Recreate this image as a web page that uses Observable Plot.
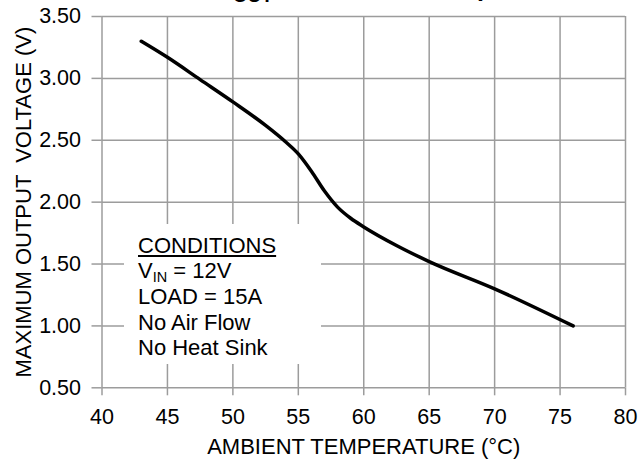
<!DOCTYPE html>
<html>
<head>
<meta charset="utf-8">
<script src="https://cdn.jsdelivr.net/npm/d3@7"></script>
<script src="https://cdn.jsdelivr.net/npm/@observablehq/plot@0.6"></script>
<style>
  html, body { margin: 0; padding: 0; background: #fff; }
  #wrap { position: relative; width: 639px; height: 459px; overflow: hidden; font-family: "Liberation Sans", Arial, Helvetica, sans-serif; }
  #title { position: absolute; left: 216px; top: -28px; font-size: 25px; font-weight: bold; white-space: nowrap; color: #000; line-height: 1.2; }
  #title sub { font-size: 19px; }
  #cond { position: absolute; left: 124px; top: 224px; width: 197px; height: 140px; background: #fff; font-size: 22px; color: #000; }
  #cond div { position: absolute; left: 14px; white-space: nowrap; line-height: 1; }
  #cond sub { font-size: 14.5px; vertical-align: -4px; line-height: 0; }
</style>
</head>
<body>
<div id="wrap"></div>
<script>
const temps = [43, 45, 47.5, 50, 52.5, 54, 55, 56, 57, 58, 59, 60, 62.5, 65, 70, 76];
const volts = [3.30, 3.17, 2.99, 2.81, 2.62, 2.49, 2.39, 2.25, 2.09, 1.96, 1.87, 1.80, 1.65, 1.52, 1.30, 1.00];
const xTicks = [40, 45, 50, 55, 60, 65, 70, 75, 80];
const yTicks = [0.5, 1.0, 1.5, 2.0, 2.5, 3.0, 3.5];
const xLabel = "AMBIENT TEMPERATURE (°C)";
const yLabel = "MAXIMUM OUTPUT  VOLTAGE (V)";
const conditions = ["CONDITIONS", "V<sub>IN</sub> = 12V", "LOAD = 15A", "No Air Flow", "No Heat Sink"];

const data = temps.map((t, i) => ({t, v: volts[i]}));
const gridColor = "#9c9c9c";

const chart = Plot.plot({
  width: 639,
  height: 459,
  marginLeft: 101.5,
  marginRight: 14,
  marginTop: 16,
  marginBottom: 71.7,
  style: {fontFamily: "'Liberation Sans', Arial, Helvetica, sans-serif", fontSize: "21.5px", background: "#fff", color: "#000"},
  x: {domain: [40, 80]},
  y: {domain: [0.5, 3.5]},
  marks: [
    Plot.gridX(xTicks, {stroke: gridColor, strokeOpacity: 1, strokeWidth: 1.5}),
    Plot.gridY(yTicks, {stroke: gridColor, strokeOpacity: 1, strokeWidth: 1.5}),
    Plot.axisX(xTicks, {tickSize: 8, tickPadding: 13, stroke: gridColor, strokeWidth: 1.5, fill: "#000", fontSize: 21.5,
      tickFormat: d => String(d), label: null}),
    Plot.axisX({anchor: "bottom", ticks: [], label: xLabel, labelAnchor: "center", labelArrow: "none", labelOffset: 66, fontSize: 22, fill: "#000"}),
    Plot.axisY(yTicks, {tickSize: 10, tickPadding: 11, stroke: gridColor, strokeWidth: 1.5, fill: "#000", fontSize: 21.5,
      tickFormat: d3.format(".2f"), label: null}),
    Plot.axisY({anchor: "left", ticks: [], label: yLabel, labelAnchor: "center", labelArrow: "none", labelOffset: 87, fontSize: 22, fill: "#000"}),
    Plot.line(data, {x: "t", y: "v", stroke: "#000", strokeWidth: 3.5, curve: "monotone-x"})
  ]
});

const wrap = document.getElementById("wrap");
wrap.appendChild(chart);

const title = document.createElement("div");
title.id = "title";
title.innerHTML = "V<sub>OUT</sub> vs. Ambient Temperature";
wrap.appendChild(title);

const cond = document.createElement("div");
cond.id = "cond";
const baselines = [28, 53.5, 79.5, 105.5, 130.5];
conditions.forEach((c, i) => {
  const d = document.createElement("div");
  d.innerHTML = c;
  d.style.top = (baselines[i] - 17.5) + "px";
  if (i === 0) d.style.textDecoration = "underline";
  cond.appendChild(d);
});
wrap.appendChild(cond);
</script>
</body>
</html>
